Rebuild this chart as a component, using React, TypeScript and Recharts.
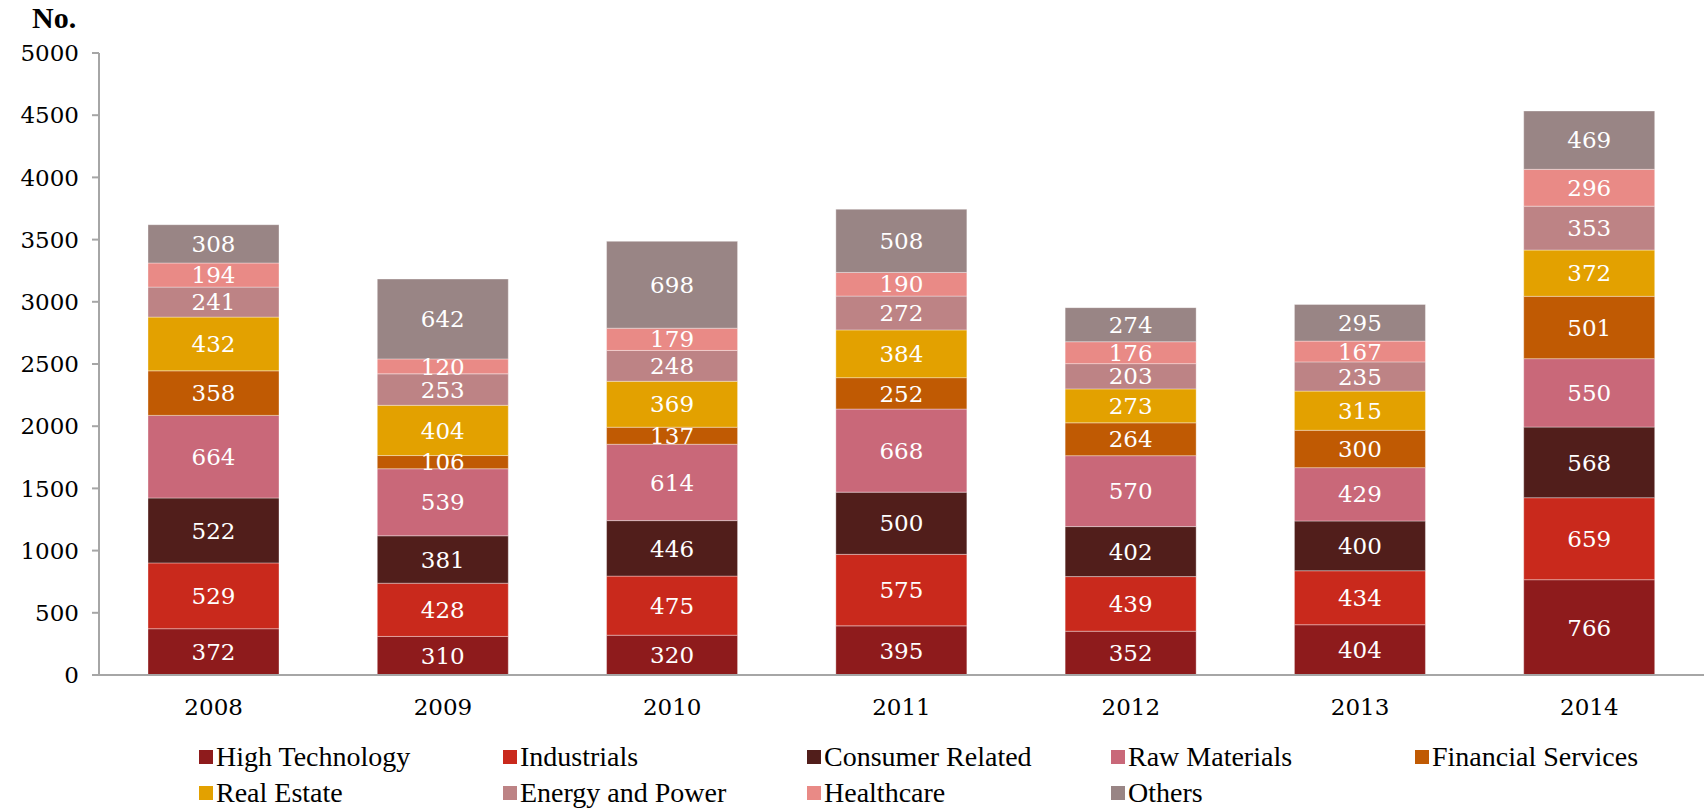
import { BarChart, Bar, XAxis, YAxis, LabelList } from 'recharts'

const years = ['2008', '2009', '2010', '2011', '2012', '2013', '2014']

const highTechnology = [372, 310, 320, 395, 352, 404, 766]
const industrials = [529, 428, 475, 575, 439, 434, 659]
const consumerRelated = [522, 381, 446, 500, 402, 400, 568]
const rawMaterials = [664, 539, 614, 668, 570, 429, 550]
const financialServices = [358, 106, 137, 252, 264, 300, 501]
const realEstate = [432, 404, 369, 384, 273, 315, 372]
const energyAndPower = [241, 253, 248, 272, 203, 235, 353]
const healthcare = [194, 120, 179, 190, 176, 167, 296]
const others = [308, 642, 698, 508, 274, 295, 469]

const yTicks = [0, 500, 1000, 1500, 2000, 2500, 3000, 3500, 4000, 4500, 5000]

const series = [
  { key: 'ht', name: 'High Technology', values: highTechnology, color: '#8e1b1c' },
  { key: 'ind', name: 'Industrials', values: industrials, color: '#c9291c' },
  { key: 'cr', name: 'Consumer Related', values: consumerRelated, color: '#511e1b' },
  { key: 'rm', name: 'Raw Materials', values: rawMaterials, color: '#c96879' },
  { key: 'fs', name: 'Financial Services', values: financialServices, color: '#c05a03' },
  { key: 're', name: 'Real Estate', values: realEstate, color: '#e3a100' },
  { key: 'ep', name: 'Energy and Power', values: energyAndPower, color: '#bd8385' },
  { key: 'hc', name: 'Healthcare', values: healthcare, color: '#e98a86' },
  { key: 'ot', name: 'Others', values: others, color: '#998585' },
]

const data = years.map((year, i) => {
  const row: Record<string, string | number> = { year }
  series.forEach(s => { row[s.key] = s.values[i] })
  return row
})

const numFont = '"DejaVu Serif", serif'
const textFont = '"Liberation Serif", serif'
const axisColor = '#a6a6a6'

export default function App() {
  return (
    <div style={{ position: 'absolute', left: 0, top: 0, width: 1705, height: 808, background: '#fff', overflow: 'hidden' }}>
      <div style={{ position: 'absolute', left: 32, top: 1, fontFamily: textFont, fontWeight: 'bold', fontSize: 30, color: '#000' }}>No.</div>
      <BarChart
        width={1705}
        height={808}
        data={data}
        margin={{ top: 53, right: 1, left: 0, bottom: 93 }}
      >
        <XAxis
          dataKey="year"
          height={40}
          tickLine={false}
          axisLine={{ stroke: axisColor, strokeWidth: 2 }}
          tick={{ fill: '#000', fontSize: 23, fontFamily: numFont }}
          tickMargin={18}
        />
        <YAxis
          width={99}
          domain={[0, 5000]}
          ticks={yTicks}
          interval={0}
          tickSize={7}
          tickMargin={13}
          axisLine={{ stroke: axisColor, strokeWidth: 2 }}
          tickLine={{ stroke: axisColor, strokeWidth: 2 }}
          tick={{ fill: '#000', fontSize: 23, fontFamily: numFont }}
        />
        {series.map(s => (
          <Bar
            key={s.key}
            dataKey={s.key}
            name={s.name}
            stackId="a"
            barSize={131}
            fill={s.color}
            stroke="#ffffff"
            strokeOpacity={0.35}
            strokeWidth={1}
            isAnimationActive={false}
          >
            <LabelList dataKey={s.key} position="center" fill="#ffffff" fontSize={23} fontFamily={numFont} />
          </Bar>
        ))}
      </BarChart>
      <div style={{ position: 'absolute', left: 199, top: 739, width: 1520, display: 'flex', flexWrap: 'wrap', fontFamily: textFont, fontSize: 28, lineHeight: '32px', color: '#000' }}>
        {series.map(s => (
          <div key={s.key} style={{ width: 304, height: 36, display: 'flex', alignItems: 'center' }}>
            <span style={{ width: 14, height: 14, background: s.color, marginRight: 3, display: 'inline-block' }} />
            <span>{s.name}</span>
          </div>
        ))}
      </div>
    </div>
  )
}
